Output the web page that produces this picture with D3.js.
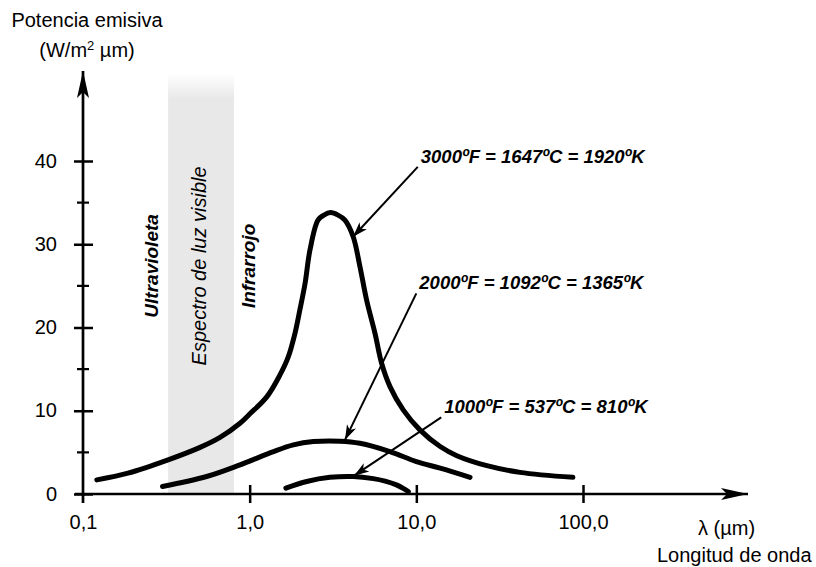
<!DOCTYPE html>
<html>
<head>
<meta charset="utf-8">
<script src="https://cdnjs.cloudflare.com/ajax/libs/d3/7.8.5/d3.min.js"></script>
<style>
  body { margin: 0; background: #fff; }
  svg { display: block; font-family: "Liberation Sans", Arial, sans-serif; }
</style>
</head>
<body>
<div class="svg-container"></div>
<script>
// wavelength (um) and emissive power (W/m2 um)
var lambda1920 = [0.121, 0.186, 0.324, 0.504, 0.664, 0.875, 1.0, 1.27, 1.52, 1.70, 1.87, 2.0, 2.15, 2.30, 2.57, 2.79, 3.05, 3.39, 3.73, 4.18, 4.59, 5.03, 5.65, 6.19, 6.95, 8.34, 10.5, 13.9, 17.5, 26.5, 41.9, 87.0];
var power1920  = [1.7, 2.5, 4.1, 5.6, 6.8, 8.5, 9.6, 11.7, 14.3, 16.4, 19.3, 22.1, 25.3, 29.3, 32.9, 33.5, 33.8, 33.5, 32.9, 30.9, 27.3, 23.3, 19.3, 15.7, 12.9, 10.1, 7.7, 5.7, 4.6, 3.4, 2.6, 2.0];

var lambda1365 = [0.30, 0.552, 0.875, 1.39, 1.83, 2.41, 3.48, 4.59, 6.95, 10.0, 13.9, 21.0];
var power1365  = [0.9, 2.1, 3.5, 5.1, 5.9, 6.3, 6.35, 6.1, 5.1, 3.9, 3.1, 2.0];

var lambda810 = [1.65, 2.20, 3.03, 4.19, 5.52, 6.5, 7.6, 8.4, 8.95];
var power810  = [0.7, 1.5, 2.0, 2.1, 1.85, 1.55, 1.1, 0.65, 0.3];

var curveLabels = ["3000ºF = 1647ºC = 1920ºK", "2000ºF = 1092ºC = 1365ºK", "1000ºF = 537ºC = 810ºK"];
// arrow start (label end) and tip, in data units
var labelLambda = [10.2, 10.0, 14.1];
var labelPower  = [39.3, 24.1, 9.2];
var tipLambda   = [4.17, 3.73, 4.23];
var tipPower    = [30.9, 6.5, 2.2];

var visibleBand = [0.324, 0.805];

var xTicks = [0.1, 1, 10, 100];
var xTickLabels = ["0,1", "1,0", "10,0", "100,0"];
var yTicks = [0, 10, 20, 30, 40];
var yMinorTicks = [5, 15, 25, 35];

var width = 816, height = 567;

var x = d3.scaleLog().domain([0.1, 100]).range([83, 583]);
var y = d3.scaleLinear().domain([0, 40]).range([494, 161]);

var svg = d3.select(".svg-container").append("svg")
    .attr("width", width)
    .attr("height", height);

var defs = svg.append("defs");

var grad = defs.append("linearGradient")
    .attr("id", "bandFade")
    .attr("x1", 0).attr("y1", 0).attr("x2", 0).attr("y2", 1);
grad.append("stop").attr("offset", "0").attr("stop-color", "#e8e8e8").attr("stop-opacity", 0);
grad.append("stop").attr("offset", "0.06").attr("stop-color", "#e8e8e8").attr("stop-opacity", 1);
grad.append("stop").attr("offset", "1").attr("stop-color", "#e8e8e8").attr("stop-opacity", 1);

defs.append("marker")
    .attr("id", "axisHead")
    .attr("markerUnits", "userSpaceOnUse")
    .attr("viewBox", "-28 -8 30 16")
    .attr("refX", 0).attr("refY", 0)
    .attr("markerWidth", 30).attr("markerHeight", 16)
    .attr("orient", "auto")
  .append("path")
    .attr("d", "M0,0 L-27,-6 L-21,0 L-27,6 Z")
    .attr("fill", "#000");

defs.append("marker")
    .attr("id", "noteHead")
    .attr("markerUnits", "userSpaceOnUse")
    .attr("viewBox", "-16 -6 18 12")
    .attr("refX", 0).attr("refY", 0)
    .attr("markerWidth", 18).attr("markerHeight", 12)
    .attr("orient", "auto")
  .append("path")
    .attr("d", "M0,0 L-15,-5 L-11,0 L-15,5 Z")
    .attr("fill", "#000");

// visible spectrum band
svg.append("rect")
    .attr("x", x(visibleBand[0]))
    .attr("y", y(50.5))
    .attr("width", x(visibleBand[1]) - x(visibleBand[0]))
    .attr("height", y(0) - y(50.5))
    .attr("fill", "url(#bandFade)");

var bandMid = (x(visibleBand[0]) + x(visibleBand[1])) / 2;
var bandY = y(27.4);

var sideText = [
  { text: "Ultravioleta", x: x(visibleBand[0]) - 10, weight: "bold", size: 19 },
  { text: "Espectro de luz visible", x: bandMid + 5, weight: "normal", size: 20 },
  { text: "Infrarrojo", x: x(visibleBand[1]) + 21, weight: "bold", size: 19 }
];
svg.selectAll(".side").data(sideText).enter().append("text")
    .attr("class", "side")
    .attr("transform", function(d) { return "translate(" + d.x + "," + bandY + ") rotate(-90)"; })
    .attr("text-anchor", "middle")
    .attr("font-size", function(d) { return d.size; })
    .attr("font-style", "italic")
    .attr("font-weight", function(d) { return d.weight; })
    .text(function(d) { return d.text; });

// axes
var yAxis = svg.append("g")
    .attr("transform", "translate(" + x(0.1) + ",0)")
    .call(d3.axisLeft(y).tickValues(yTicks).tickFormat(d3.format("d")).tickSize(0).tickPadding(26));
yAxis.select(".domain").remove();
yAxis.selectAll(".tick text").attr("font-size", 20).attr("font-family", null).attr("dy", "0.3em");
yAxis.selectAll(".tick").append("line")
    .attr("x1", -9).attr("x2", 10)
    .attr("stroke", "#000").attr("stroke-width", 2.5);

svg.selectAll(".minor").data(yMinorTicks).enter().append("line")
    .attr("class", "minor")
    .attr("x1", x(0.1) - 6).attr("x2", x(0.1) + 6)
    .attr("y1", function(d) { return y(d); })
    .attr("y2", function(d) { return y(d); })
    .attr("stroke", "#000").attr("stroke-width", 2.2);

var xAxis = svg.append("g")
    .attr("transform", "translate(0," + y(0) + ")")
    .call(d3.axisBottom(x).tickValues(xTicks)
      .tickFormat(function(d, i) { return xTickLabels[i]; })
      .tickSize(0).tickPadding(21));
xAxis.select(".domain").remove();
xAxis.selectAll(".tick text").attr("font-size", 20).attr("font-family", null).attr("dy", "0.71em");
xAxis.selectAll(".tick").filter(function(d) { return d > 0.1; }).append("line")
    .attr("y1", -9).attr("y2", 9)
    .attr("stroke", "#000").attr("stroke-width", 2.5);

svg.append("line")
    .attr("x1", x(0.1)).attr("x2", x(0.1))
    .attr("y1", y(0) + 9).attr("y2", 71)
    .attr("stroke", "#000").attr("stroke-width", 2.7)
    .attr("marker-end", "url(#axisHead)");

svg.append("line")
    .attr("x1", x(0.1) - 8).attr("x2", 748)
    .attr("y1", y(0)).attr("y2", y(0))
    .attr("stroke", "#000").attr("stroke-width", 2.7)
    .attr("marker-end", "url(#axisHead)");

// axis titles
svg.append("text")
    .attr("x", 87).attr("y", 27)
    .attr("text-anchor", "middle")
    .attr("font-size", 20)
    .text("Potencia emisiva");
var yUnit = svg.append("text")
    .attr("x", 87).attr("y", 57)
    .attr("text-anchor", "middle")
    .attr("font-size", 20);
yUnit.append("tspan").text("(W/m");
yUnit.append("tspan").attr("font-size", 13).attr("dy", -7).text("2");
yUnit.append("tspan").attr("dy", 7).text(" µm)");

svg.append("text")
    .attr("x", 698).attr("y", 535)
    .attr("font-size", 20)
    .text("λ (µm)");
svg.append("text")
    .attr("x", 657).attr("y", 562)
    .attr("font-size", 20)
    .text("Longitud de onda");

// curves
var line = d3.line()
    .x(function(d) { return x(d[0]); })
    .y(function(d) { return y(d[1]); })
    .curve(d3.curveCatmullRom.alpha(0.5));

var curves = [
  d3.zip(lambda1920, power1920),
  d3.zip(lambda1365, power1365),
  d3.zip(lambda810, power810)
];

svg.selectAll(".curve").data(curves).enter().append("path")
    .attr("class", "curve")
    .attr("d", line)
    .attr("fill", "none")
    .attr("stroke", "#000")
    .attr("stroke-width", 5)
    .attr("stroke-linecap", "round");

// annotations
var notes = curveLabels.map(function(t, i) {
  return { text: t, lx: labelLambda[i], ly: labelPower[i], tx: tipLambda[i], ty: tipPower[i] };
});

svg.selectAll(".note").data(notes).enter().append("line")
    .attr("class", "note")
    .attr("x1", function(d) { return x(d.lx); })
    .attr("y1", function(d) { return y(d.ly); })
    .attr("x2", function(d) { return x(d.tx); })
    .attr("y2", function(d) { return y(d.ty); })
    .attr("stroke", "#000")
    .attr("stroke-width", 2)
    .attr("marker-end", "url(#noteHead)");

svg.selectAll(".noteText").data(notes).enter().append("text")
    .attr("class", "noteText")
    .attr("x", function(d) { return x(d.lx) + 3; })
    .attr("y", function(d) { return y(d.ly) - 4; })
    .attr("font-size", 18.5)
    .attr("font-weight", "bold")
    .attr("font-style", "italic")
    .text(function(d) { return d.text; });
</script>
</body>
</html>
